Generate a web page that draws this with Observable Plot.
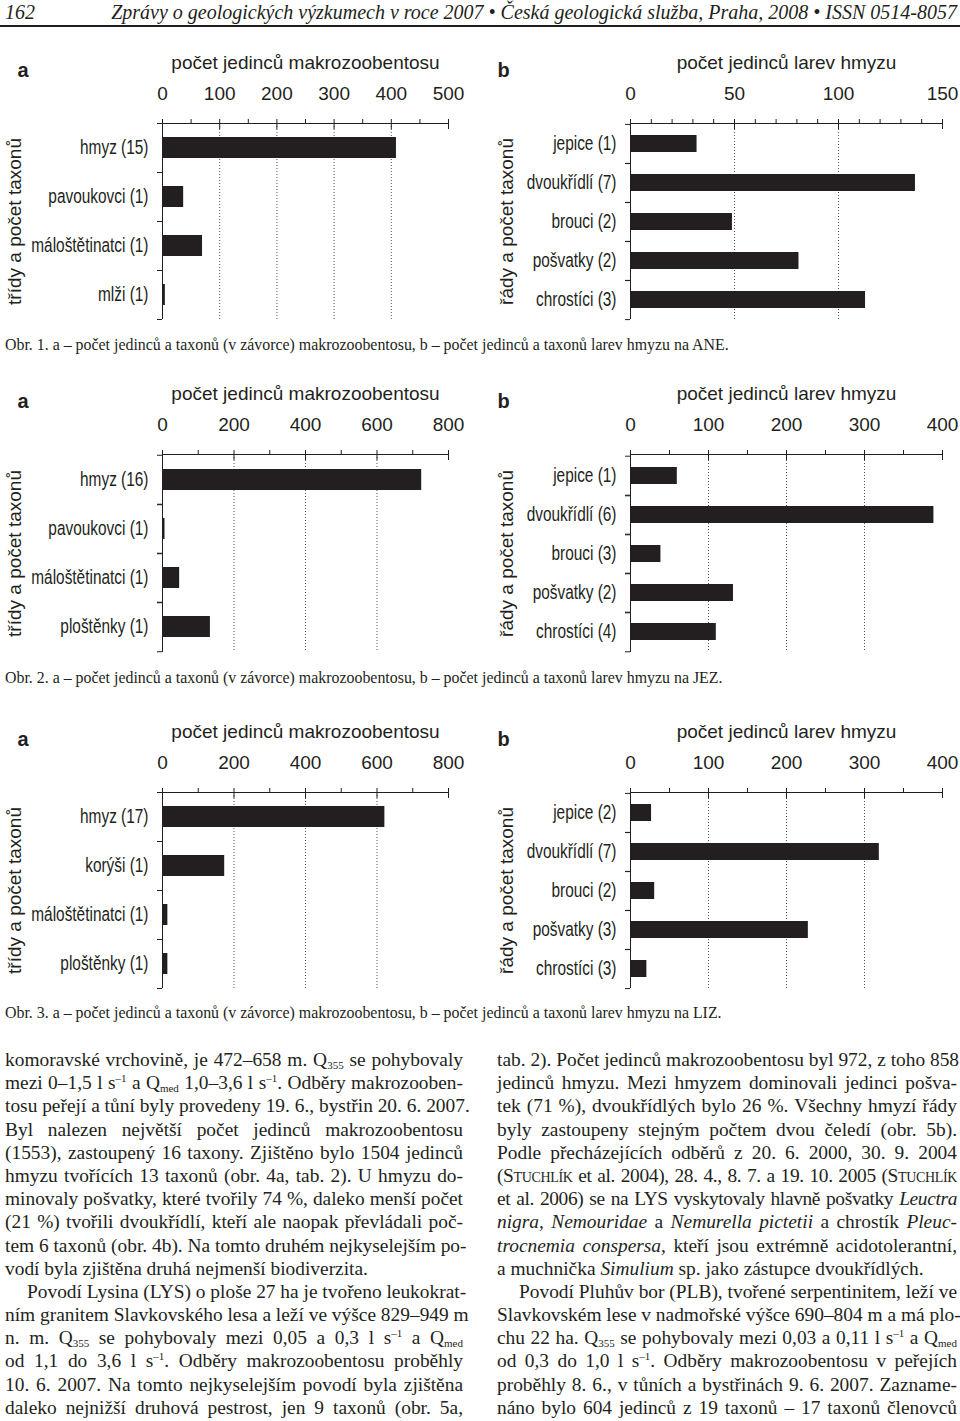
<!DOCTYPE html>
<html>
<head>
<meta charset="utf-8">
<script src="https://cdn.jsdelivr.net/npm/d3@7"></script>
<script src="https://cdn.jsdelivr.net/npm/@observablehq/plot@0.6"></script>
<style>
  html, body { margin: 0; padding: 0; background: #fff; }
  body { width: 960px; height: 1421px; position: relative; overflow: hidden; color: #231f20; font-family: "Liberation Serif", "Times New Roman", serif; }
  .abs { position: absolute; }
  .hdr { top: 1px; font-style: italic; font-size: 20px; line-height: 22px; white-space: nowrap; }
  .rule { left: 0; width: 960px; top: 25px; height: 2px; background: #231f20; }
  .cap { left: 5px; font-size: 15.9px; white-space: nowrap; }
  .col { top: 1048px; width: 458px; font-size: 19.4px; line-height: 23.2px; }
  .col div { text-align: justify; text-align-last: justify; white-space: nowrap; height: 23.2px; }
  .col div.last { text-align-last: left; }
  .col div.ind { text-indent: 22px; }
  .col div.tight { letter-spacing: -0.35px; word-spacing: -1px; }
  sub, sup { font-size: 11px; line-height: 0; }
  sub { vertical-align: -3px; }
  sup { vertical-align: 7px; }
  .sc { font-variant: small-caps; }
</style>
</head>
<body>
<div class="abs hdr" style="left:5px">162</div>
<div class="abs hdr" style="right:3px">Zprávy o geologických výzkumech v roce 2007 • Česká geologická služba, Praha, 2008 • ISSN 0514-8057</div>
<div class="abs rule"></div>

<div id="f1a" class="abs" style="left:0;top:43px"></div>
<div id="f1b" class="abs" style="left:480px;top:43px"></div>
<div class="abs cap" style="top:336px">Obr. 1. a – počet jedinců a taxonů (v závorce) makrozoobentosu, b – počet jedinců a taxonů larev hmyzu na ANE.</div>

<div id="f2a" class="abs" style="left:0;top:374px"></div>
<div id="f2b" class="abs" style="left:480px;top:374px"></div>
<div class="abs cap" style="top:669px">Obr. 2. a – počet jedinců a taxonů (v závorce) makrozoobentosu, b – počet jedinců a taxonů larev hmyzu na JEZ.</div>

<div id="f3a" class="abs" style="left:0;top:712px"></div>
<div id="f3b" class="abs" style="left:480px;top:712px"></div>
<div class="abs cap" style="top:1004px">Obr. 3. a – počet jedinců a taxonů (v závorce) makrozoobentosu, b – počet jedinců a taxonů larev hmyzu na LIZ.</div>

<div class="abs col" style="left:5px">
  <div>komoravské vrchovině, je 472–658 m. Q<sub>355</sub> se pohybovaly</div>
  <div>mezi 0–1,5 l s<sup>–1</sup> a Q<sub>med</sub> 1,0–3,6 l s<sup>–1</sup>. Odběry makrozooben-</div>
  <div>tosu peřejí a tůní byly provedeny 19. 6., bystřin 20. 6. 2007.</div>
  <div>Byl nalezen největší počet jedinců makrozoobentosu</div>
  <div>(1553), zastoupený 16 taxony. Zjištěno bylo 1504 jedinců</div>
  <div>hmyzu tvořících 13 taxonů (obr. 4a, tab. 2). U hmyzu do-</div>
  <div>minovaly pošvatky, které tvořily 74 %, daleko menší počet</div>
  <div>(21 %) tvořili dvoukřídlí, kteří ale naopak převládali poč-</div>
  <div>tem 6 taxonů (obr. 4b). Na tomto druhém nejkyselejším po-</div>
  <div class="last">vodí byla zjištěna druhá nejmenší biodiverzita.</div>
  <div class="ind">Povodí Lysina (LYS) o ploše 27 ha je tvořeno leukokrat-</div>
  <div>ním granitem Slavkovského lesa a leží ve výšce 829–949 m</div>
  <div>n. m. Q<sub>355</sub> se pohybovaly mezi 0,05 a 0,3 l s<sup>–1</sup> a Q<sub>med</sub></div>
  <div>od 1,1 do 3,6 l s<sup>–1</sup>. Odběry makrozoobentosu proběhly</div>
  <div>10. 6. 2007. Na tomto nejkyselejším povodí byla zjištěna</div>
  <div>daleko nejnižší druhová pestrost, jen 9 taxonů (obr. 5a,</div>
</div>
<div class="abs col" style="left:497px;width:460px">
  <div>tab. 2). Počet jedinců makrozoobentosu byl 972, z toho 858</div>
  <div>jedinců hmyzu. Mezi hmyzem dominovali jedinci pošva-</div>
  <div>tek (71 %), dvoukřídlých bylo 26 %. Všechny hmyzí řády</div>
  <div>byly zastoupeny stejným počtem dvou čeledí (obr. 5b).</div>
  <div>Podle přecházejících odběrů z 20. 6. 2000, 30. 9. 2004</div>
  <div class="tight">(<span class="sc">Stuchlík</span> et al. 2004), 28. 4., 8. 7. a 19. 10. 2005 (<span class="sc">Stuchlík</span></div>
  <div class="tight">et al. 2006) se na LYS vyskytovaly hlavně pošvatky <i>Leuctra</i></div>
  <div><i>nigra, Nemouridae</i> a <i>Nemurella pictetii</i> a chrostík <i>Pleuc-</i></div>
  <div><i>trocnemia conspersa,</i> kteří jsou extrémně acidotolerantní,</div>
  <div class="last">a muchnička <i>Simulium</i> sp. jako zástupce dvoukřídlých.</div>
  <div class="ind">Povodí Pluhův bor (PLB), tvořené serpentinitem, leží ve</div>
  <div>Slavkovském lese v nadmořské výšce 690–804 m a má plo-</div>
  <div>chu 22 ha. Q<sub>355</sub> se pohybovaly mezi 0,03 a 0,11 l s<sup>–1</sup> a Q<sub>med</sub></div>
  <div>od 0,3 do 1,0 l s<sup>–1</sup>. Odběry makrozoobentosu v peřejích</div>
  <div>proběhly 8. 6., v tůních a bystřinách 9. 6. 2007. Zazname-</div>
  <div>náno bylo 604 jedinců z 19 taxonů – 17 taxonů členovců</div>
</div>

<script>
// ---- data ----
const titleA = "počet jedinců makrozoobentosu";
const titleB = "počet jedinců larev hmyzu";
const ylabelA = "třídy a počet taxonů";
const ylabelB = "řády a počet taxonů";

// Obr. 1 (ANE)
const f1aCategories = ["hmyz (15)", "pavoukovci (1)", "máloštětinatci (1)", "mlži (1)"];
const f1aValues = [409, 37, 70, 5];
const f1aTicks = [0, 100, 200, 300, 400, 500];
const f1aMinor = [50, 150, 250, 350, 450];
const f1bCategories = ["jepice (1)", "dvoukřídlí (7)", "brouci (2)", "pošvatky (2)", "chrostíci (3)"];
const f1bValues = [32, 137, 49, 81, 113];
const f1bTicks = [0, 50, 100, 150];
const f1bMinor = [10, 20, 30, 40, 60, 70, 80, 90, 110, 120, 130, 140];

// Obr. 2 (JEZ)
const f2aCategories = ["hmyz (16)", "pavoukovci (1)", "máloštětinatci (1)", "ploštěnky (1)"];
const f2aValues = [725, 7, 48, 134];
const f2aTicks = [0, 200, 400, 600, 800];
const f2aMinor = [100, 300, 500, 700];
const f2bCategories = ["jepice (1)", "dvoukřídlí (6)", "brouci (3)", "pošvatky (2)", "chrostíci (4)"];
const f2bValues = [60, 389, 39, 132, 110];
const f2bTicks = [0, 100, 200, 300, 400];
const f2bMinor = [50, 150, 250, 350];

// Obr. 3 (LIZ)
const f3aCategories = ["hmyz (17)", "korýši (1)", "máloštětinatci (1)", "ploštěnky (1)"];
const f3aValues = [622, 174, 15, 15];
const f3aTicks = [0, 200, 400, 600, 800];
const f3aMinor = [100, 300, 500, 700];
const f3bCategories = ["jepice (2)", "dvoukřídlí (7)", "brouci (2)", "pošvatky (3)", "chrostíci (3)"];
const f3bValues = [27, 319, 31, 228, 21];
const f3bTicks = [0, 100, 200, 300, 400];
const f3bMinor = [50, 150, 250, 350];

// ---- drawing ----
const INK = "#231f20";
function chart(cats, vals, ticks, minor, title, ylabel, letter, side, innerH) {
  const data = cats.map((c, i) => ({c, v: vals[i]}));
  const isA = side === "a";
  const mLeft = isA ? 162 : 150;
  const mRight = isA ? 32 : 18;
  const step = innerH / cats.length;
  const grid = ticks.slice(1, -1);
  const svg = Plot.plot({
    width: 480,
    height: 80 + innerH + 8,
    marginTop: 80,
    marginBottom: 8,
    marginLeft: mLeft,
    marginRight: mRight,
    style: {fontFamily: "'Liberation Sans', Arial, sans-serif", color: INK, background: "transparent", overflow: "visible"},
    x: {domain: [ticks[0], ticks[ticks.length - 1]]},
    y: {domain: cats, paddingInner: 0.57, paddingOuter: 0.285},
    marks: [
      Plot.gridX(grid, {stroke: "#555", strokeOpacity: 1, strokeWidth: 1, strokeDasharray: "1,2"}),
      Plot.barX(data, {x: "v", y: "c", fill: INK}),
      Plot.frame({anchor: "top", stroke: INK, strokeWidth: 1}),
      Plot.ruleX([0], {stroke: INK, strokeWidth: 1}),
      Plot.axisX(minor, {anchor: "top", tickSize: 5, text: null, label: null, stroke: INK}),
      Plot.axisX(ticks, {anchor: "top", tickSize: 10, dy: 5, text: null, label: null, stroke: INK}),
      Plot.axisX(ticks, {anchor: "top", tickSize: 0, tickPadding: 30, lineAnchor: "middle", fontSize: 19, label: null}),
      Plot.axisY({anchor: "left", tickSize: 5, text: null, label: null, dy: step / 2, stroke: INK}),
      Plot.axisY({anchor: "left", tickSize: 5, text: null, label: null, dy: -step / 2, stroke: INK}),
      Plot.axisY({anchor: "left", tickSize: 0, tickPadding: 14, fontSize: 19.5, label: null}),
      Plot.text([title], {frameAnchor: "top", dy: -61, fontSize: 19, lineAnchor: "middle"}),
      Plot.text([ylabel], {frameAnchor: "left", rotate: -90, dx: isA ? -148 : -124, fontSize: 19, textAnchor: "middle", lineAnchor: "middle"}),
      Plot.text([letter], {frameAnchor: "top-left", dx: isA ? -145 : -133, dy: -53, fontSize: 20, fontWeight: "bold", textAnchor: "start", lineAnchor: "middle"})
    ]
  });
  // the category labels in the original are set in a condensed face: narrow them horizontally
  const catSet = new Set(cats);
  svg.querySelectorAll("text").forEach(t => {
    if (!catSet.has(t.textContent.trim())) return;
    const tr = t.getAttribute("transform");
    if (tr && /translate/.test(tr)) {
      t.setAttribute("transform", tr + " scale(0.79,1)");
    } else {
      const X = +(t.getAttribute("x") || 0);
      t.setAttribute("transform", `translate(${X},0) scale(0.79,1) translate(${-X},0)`);
    }
  });
  return svg;
}

document.getElementById("f1a").append(chart(f1aCategories, f1aValues, f1aTicks, f1aMinor, titleA, ylabelA, "a", "a", 196));
document.getElementById("f1b").append(chart(f1bCategories, f1bValues, f1bTicks, f1bMinor, titleB, ylabelB, "b", "b", 196));
document.getElementById("f2a").append(chart(f2aCategories, f2aValues, f2aTicks, f2aMinor, titleA, ylabelA, "a", "a", 198));
document.getElementById("f2b").append(chart(f2bCategories, f2bValues, f2bTicks, f2bMinor, titleB, ylabelB, "b", "b", 198));
document.getElementById("f3a").append(chart(f3aCategories, f3aValues, f3aTicks, f3aMinor, titleA, ylabelA, "a", "a", 196));
document.getElementById("f3b").append(chart(f3bCategories, f3bValues, f3bTicks, f3bMinor, titleB, ylabelB, "b", "b", 196));
</script>
</body>
</html>
